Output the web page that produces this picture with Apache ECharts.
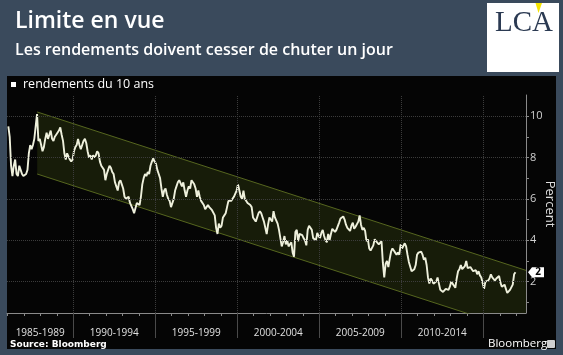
<!DOCTYPE html>
<html><head><meta charset="utf-8">
<script src="https://cdn.jsdelivr.net/npm/echarts@6/dist/echarts.min.js"></script>
<style>html,body{margin:0;padding:0;background:#3a4a5c;}#c{width:563px;height:355px;}</style>
</head><body><div id="c"></div>
<script>
// Monthly 10-year yields (%), Jan 1986 .. Dec 2016
const startYear = 1986;
const yields = [
 9.5,9.0,7.6,7.1,7.6,7.9,7.2,7.1,7.6,7.4,7.2,7.1,
 7.1,7.2,7.4,8.2,8.6,8.4,8.6,8.9,9.5,10.1,8.8,8.9,
 8.6,8.3,8.5,8.9,9.2,8.9,9.1,9.3,8.9,8.8,9.0,9.1,
 9.1,9.3,9.45,9.1,8.8,8.2,7.9,8.2,8.2,7.9,7.8,7.9,
 8.3,8.5,8.6,8.9,8.6,8.4,8.4,8.8,8.9,8.7,8.3,8.0,
 8.1,7.9,8.1,8.0,8.1,8.3,8.2,7.8,7.6,7.5,7.4,6.9,
 7.2,7.4,7.6,7.5,7.3,7.2,6.8,6.6,6.4,6.8,6.9,6.7,
 6.5,6.1,6.0,6.0,6.1,5.8,5.8,5.5,5.3,5.3,5.8,5.8,
 5.7,6.1,6.7,7.0,7.2,7.1,7.3,7.2,7.6,7.8,7.95,7.8,
 7.7,7.4,7.2,7.0,6.5,6.1,6.4,6.5,6.2,6.0,5.9,5.6,
 5.6,6.0,6.4,6.6,6.8,6.9,6.9,6.6,6.8,6.4,6.1,6.4,
 6.6,6.5,6.9,6.9,6.7,6.5,6.1,6.4,6.1,5.9,5.9,5.7,
 5.5,5.6,5.7,5.6,5.6,5.45,5.5,5.2,4.6,4.3,4.8,4.6,
 4.7,5.1,5.2,5.3,5.6,5.9,5.9,5.9,5.9,6.1,6.1,6.4,
 6.7,6.4,6.1,6.0,6.4,6.0,6.0,5.8,5.8,5.7,5.6,5.1,
 5.1,4.9,4.9,5.3,5.4,5.3,5.1,4.9,4.6,4.3,4.75,5.1,
 5.0,4.9,5.4,5.1,5.1,4.8,4.5,4.1,3.7,3.9,4.2,3.8,
 4.0,3.7,3.8,3.9,3.4,3.2,4.4,4.5,3.95,4.3,4.35,4.25,
 4.1,4.0,3.75,4.5,4.7,4.6,4.5,4.1,4.1,4.0,4.35,4.2,
 4.1,4.35,4.5,4.2,4.0,3.9,4.3,4.0,4.3,4.55,4.5,4.4,
 4.5,4.55,4.85,5.05,5.1,5.15,5.0,4.75,4.6,4.6,4.45,4.7,
 4.85,4.55,4.65,4.65,4.9,5.2,4.75,4.5,4.6,4.45,3.95,4.05,
 3.6,3.5,3.45,3.75,4.05,3.95,4.0,3.8,3.8,3.95,2.9,2.2,
 2.85,3.0,2.7,3.1,3.45,3.6,3.5,3.4,3.3,3.4,3.3,3.8,
 3.6,3.6,3.85,3.7,3.3,2.95,2.95,2.5,2.5,2.6,2.8,3.3,
 3.4,3.45,3.45,3.3,3.05,3.15,2.8,2.2,1.9,2.15,2.05,1.9,
 1.85,2.0,2.2,1.9,1.6,1.65,1.5,1.55,1.65,1.7,1.6,1.75,
 2.0,1.9,1.85,1.7,2.15,2.5,2.6,2.8,2.6,2.55,2.75,3.0,
 2.65,2.65,2.7,2.65,2.5,2.55,2.55,2.35,2.5,2.3,2.2,2.15,
 1.65,2.0,1.95,2.05,2.15,2.35,2.2,2.2,2.05,2.15,2.2,2.27,
 1.95,1.75,1.8,1.85,1.85,1.45,1.45,1.6,1.6,1.85,2.35,2.45
];
// Trend channel (parallel lines)
const channelYears = [1987.8, 2017.6];
const channelUpper = [10.2, 2.54];
const channelLower = [7.2, -0.46];
// Axes
const xMin = 1985.96, xMax = 2017.6, yMin = 0.48, yMax = 11.02;
const yTickValues = [1,2,3,4,5,6,7,8,9,10];
const yLabelValues = [2,4,6,8,10];
const yearTicks = [1986,1987,1988,1989,1990,1991,1992,1993,1994,1995,1996,1997,1998,1999,2000,2001,2002,2003,2004,2005,2006,2007,2008,2009,2010,2011,2012,2013,2014,2015,2016,2017];
const gridYears = [1990,1995,2000,2005,2010,2015];
const periodStarts = [1985,1990,1995,2000,2005,2010,2015];
const periodLabels = ['1985-1989','1990-1994','1995-1999','2000-2004','2005-2009','2010-2014',''];

const FONT = 'Open Sans';
const mainData = yields.map((v,i)=>[startYear+(i+0.5)/12, v]);
const lastValue = yields[yields.length-1];
const upperData = channelYears.map((x,i)=>[x, channelUpper[i]]);
const lowerData = channelYears.map((x,i)=>[x, channelLower[i]]);
// channel polygon, lower edge cut at the bottom of the value range
const x0 = channelYears[0], x1 = channelYears[1];
const lSlope = (channelLower[1]-channelLower[0])/(x1-x0);
const xCut = x0 + (yMin-channelLower[0])/lSlope;
const bandPoly = [[x0,channelUpper[0]],[x1,channelUpper[1]],[x1,yMin],[xCut,yMin],[x0,channelLower[0]]];
const periodMids = periodStarts.map(s=>(Math.max(s,xMin)+Math.min(s+5,xMax))/2);

const chart = echarts.init(document.getElementById('c'), null, {renderer:'canvas'});
const option = {
  backgroundColor:'#3a4a5c',
  animation:false,
  title:{
    text:'Limite en vue', subtext:'Les rendements doivent cesser de chuter un jour',
    left:15, top:10, padding:0, itemGap:9,
    textStyle:{color:'#fff', fontFamily:FONT, fontWeight:600, fontSize:23},
    subtextStyle:{color:'#fff', fontFamily:FONT, fontWeight:600, fontSize:16}
  },
  graphic:[
    {type:'rect', z:-10, shape:{x:7,y:76,width:549,height:273}, style:{fill:'#050505'}},
    {type:'rect', z:-10, shape:{x:487,y:3,width:72,height:69}, style:{fill:'#ffffff'}},
    {type:'text', z:5, style:{x:495,y:9,text:'LCA', font:'29px "Liberation Serif"', fill:'#2b3a52'}},
    {type:'polygon', z:6, shape:{points:[[535.5,3],[542,3],[538.5,13]]}, style:{fill:'#f5e400'}},
    {type:'text', z:5, style:{x:10,y:340,text:'Source: Bloomberg', font:'bold 9px "DejaVu Sans"', fill:'#ffffff'}},
    {type:'text', z:5, style:{x:488,y:338,text:'Bloomberg', font:'11.5px "Open Sans"', fill:'#ffffff'}},
    {type:'rect', z:5, shape:{x:547,y:340,width:8,height:8,r:1}, style:{fill:'#cfcfcf'}}
  ],
  legend:{
    left:11, top:78, padding:0, icon:'rect', itemWidth:5, itemHeight:5, itemGap:4,
    data:['rendements du 10 ans'],
    itemStyle:{color:'#ffffff'},
    textStyle:{color:'#ffffff', fontFamily:FONT, fontSize:12.5, padding:[0,0,0,2]}
  },
  grid:{left:7, right:37, top:95, bottom:42, containLabel:false, outerBoundsMode:'none'},
  xAxis:[{
    type:'value', min:xMin, max:xMax,
    axisLine:{show:true, lineStyle:{color:'#8a8a8a', width:1}},
    axisTick:{show:true, length:3, customValues:yearTicks, lineStyle:{color:'#8a8a8a'}},
    axisLabel:{show:true, customValues:periodMids, margin:15, color:'#e0e0e0', fontFamily:FONT, fontSize:10,
      formatter:(v)=>{const k=periodMids.findIndex(m=>Math.abs(m-v)<1e-6); return k>=0?periodLabels[k]:'';}},
    splitLine:{show:false}
  },{
    type:'value', min:xMin, max:xMax, position:'bottom', offset:0,
    axisLine:{show:false},
    axisTick:{show:true, length:25, customValues:gridYears, lineStyle:{color:'#4a4a4a'}},
    axisLabel:{show:false}, splitLine:{show:false}
  }],
  yAxis:{
    type:'value', position:'right', min:yMin, max:yMax,
    name:'Percent', nameLocation:'middle', nameRotate:-90, nameGap:17, nameMoveOverlap:false,
    nameTextStyle:{color:'#e0e0e0', fontFamily:FONT, fontSize:13},
    axisLine:{show:true, lineStyle:{color:'#8a8a8a'}},
    axisTick:{show:true, length:3, customValues:yTickValues, lineStyle:{color:'#8a8a8a'}},
    axisLabel:{show:true, customValues:yLabelValues, margin:4, color:'#d0d0d0', fontFamily:FONT, fontSize:11},
    splitLine:{show:false}
  },
  series:[
    {type:'line', name:'grid', z:1, data:[], silent:true,
     markLine:{silent:true, symbol:'none', label:{show:false}, animation:false,
       lineStyle:{color:'#3c3c3c', type:'dotted', width:1},
       data:[...gridYears.map(y=>({xAxis:y})), ...yLabelValues.map(v=>({yAxis:v}))]}},
    {type:'custom', name:'channel', z:2, silent:true, data:[0],
     renderItem:(params, api)=>({
       type:'polygon',
       shape:{points:bandPoly.map(p=>api.coord(p))},
       style:{fill:'rgba(80,100,25,0.25)', stroke:null}
     })},
    {type:'line', name:'lower', z:2, data:lowerData, symbol:'none', silent:true,
     lineStyle:{color:'#56661f', width:1}},
    {type:'line', name:'upper', z:2, data:upperData, symbol:'none', silent:true,
     lineStyle:{color:'#56661f', width:1}},
    {type:'line', name:'rendements du 10 ans', z:3, data:mainData, symbol:'none',
     lineStyle:{color:'#eef0dc', width:1.9}, itemStyle:{color:'#ffffff'}},
    {type:'custom', name:'lastTag', z:6, silent:true, clip:false, data:[[xMax, lastValue]],
     renderItem:(params, api)=>{
       const p = api.coord([api.value(0), api.value(1)]);
       const x = p[0]+2, y = p[1];
       return {type:'group', children:[
         {type:'polygon', shape:{points:[[x,y],[x+4,y-5],[x+16,y-5],[x+16,y+5],[x+4,y+5]]}, style:{fill:'#ffffff'}},
         {type:'text', style:{x:x+10, y:y, text:String(Math.round(api.value(1))), fill:'#000000',
           font:'bold 10px "Open Sans"', align:'center', verticalAlign:'middle'}}
       ]};
     }}
  ]
};
chart.setOption(option);
</script></body></html>
